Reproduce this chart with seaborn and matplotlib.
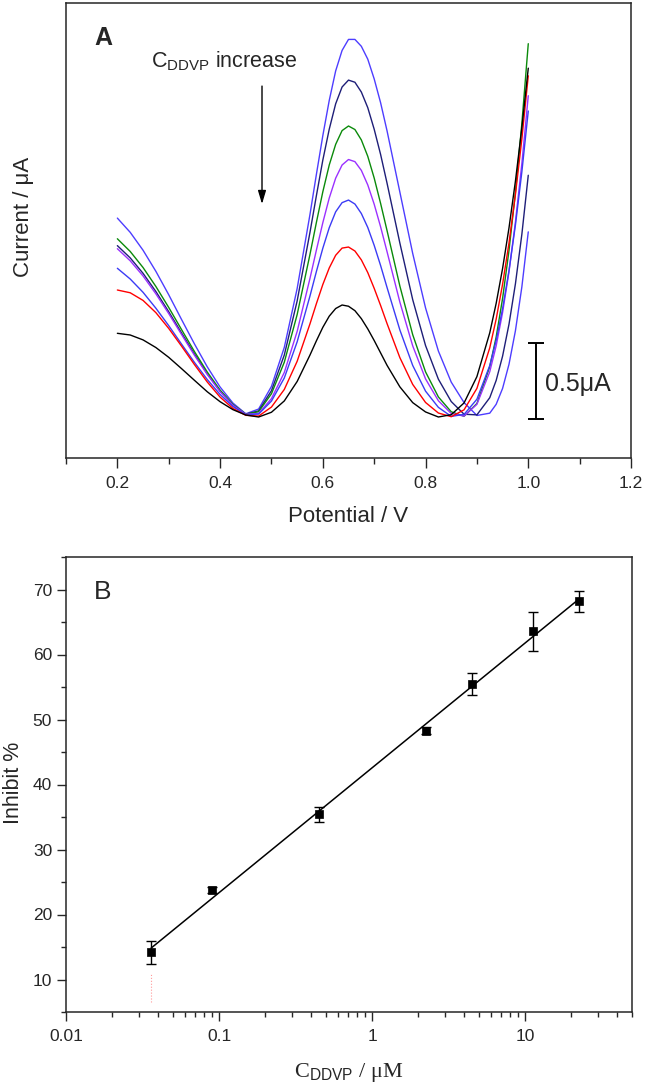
import numpy as np
import pandas as pd
import matplotlib
matplotlib.use("Agg")
import matplotlib.pyplot as plt
from matplotlib.ticker import MultipleLocator, FixedLocator, LogLocator, NullFormatter
import seaborn as sns

# ---------------- data: panel A (DPV curves, values in uA relative to minimum) ----------------
potential = [0.200, 0.225, 0.250, 0.275, 0.300, 0.325, 0.350, 0.375, 0.400, 0.425, 0.450,
             0.475, 0.500, 0.525, 0.550, 0.575,
             0.5875, 0.600, 0.6125, 0.625, 0.6375, 0.650, 0.6625, 0.675, 0.6875, 0.700, 0.7125, 0.725,
             0.750, 0.775, 0.800, 0.825, 0.850, 0.875, 0.900,
             0.925, 0.9375, 0.950, 0.9625, 0.975, 0.9875, 1.000]

curve_black = [0.547, 0.536, 0.504, 0.454, 0.390, 0.316, 0.240, 0.165, 0.100, 0.048, 0.013,
               0.000, 0.031, 0.105, 0.232, 0.405,
               0.498, 0.586, 0.659, 0.709, 0.732, 0.724, 0.695, 0.643, 0.576, 0.500, 0.419, 0.338,
               0.197, 0.094, 0.033, 0.000, 0.015, 0.092, 0.264,
               0.550, 0.743, 0.971, 1.237, 1.542, 1.890, 2.280]
curve_red = [0.830, 0.812, 0.762, 0.682, 0.579, 0.463, 0.343, 0.229, 0.130, 0.056, 0.011,
             0.006, 0.065, 0.180, 0.364, 0.609,
             0.741, 0.866, 0.974, 1.057, 1.104, 1.111, 1.085, 1.027, 0.944, 0.841, 0.729, 0.611,
             0.388, 0.213, 0.095, 0.026, 0.002, 0.047, 0.187,
             0.452, 0.640, 0.868, 1.138, 1.455, 1.817, 2.230]
curve_blue = [0.972, 0.902, 0.815, 0.711, 0.597, 0.476, 0.357, 0.245, 0.147, 0.068, 0.016,
              0.019, 0.104, 0.255, 0.491, 0.791,
              0.951, 1.103, 1.237, 1.341, 1.401, 1.418, 1.392, 1.330, 1.239, 1.122, 0.990, 0.847,
              0.569, 0.337, 0.169, 0.063, 0.004, 0.017, 0.116,
              0.336, 0.501, 0.708, 0.958, 1.255, 1.602, 2.000]
curve_purple = [1.100, 1.021, 0.922, 0.805, 0.676, 0.539, 0.404, 0.278, 0.166, 0.077, 0.018,
                0.023, 0.120, 0.291, 0.559, 0.906,
                1.091, 1.270, 1.431, 1.561, 1.647, 1.683, 1.669, 1.612, 1.517, 1.391, 1.243, 1.081,
                0.751, 0.465, 0.249, 0.106, 0.023, 0.006, 0.083,
                0.296, 0.465, 0.683, 0.950, 1.275, 1.656, 2.100]
curve_green = [1.165, 1.082, 0.977, 0.853, 0.716, 0.571, 0.428, 0.294, 0.176, 0.082, 0.019,
               0.034, 0.152, 0.358, 0.669, 1.063,
               1.272, 1.472, 1.647, 1.782, 1.872, 1.902, 1.879, 1.811, 1.704, 1.562, 1.396, 1.219,
               0.856, 0.538, 0.295, 0.131, 0.034, 0.005, 0.088,
               0.329, 0.523, 0.775, 1.089, 1.468, 1.918, 2.440]
curve_navy = [1.120, 1.040, 0.939, 0.820, 0.688, 0.549, 0.412, 0.283, 0.169, 0.078, 0.018,
              0.040, 0.172, 0.405, 0.758, 1.207,
              1.447, 1.679, 1.881, 2.047, 2.157, 2.202, 2.188, 2.124, 2.022, 1.881, 1.716, 1.529,
              1.137, 0.767, 0.467, 0.247, 0.101, 0.018, 0.014,
              0.126, 0.239, 0.398, 0.607, 0.871, 1.194, 1.580]
curve_top = [1.300, 1.207, 1.090, 0.952, 0.799, 0.637, 0.478, 0.328, 0.196, 0.091, 0.021,
             0.052, 0.200, 0.455, 0.839, 1.324,
             1.586, 1.839, 2.069, 2.262, 2.396, 2.468, 2.468, 2.423, 2.339, 2.210, 2.054, 1.871,
             1.470, 1.069, 0.713, 0.431, 0.228, 0.094, 0.010,
             0.025, 0.083, 0.187, 0.345, 0.564, 0.850, 1.210]

curve_names = ["c1", "c2", "c3", "c4", "c5", "c6", "c7"]
curve_colors = ["#000000", "#ff0000", "#3b3bf5", "#9b30ff", "#0a8a0a", "#1e1e78", "#4d3dff"]

# ---------------- data: panel B ----------------
conc_uM = [0.036, 0.09, 0.45, 2.25, 4.5, 11.25, 22.5]
inhibit = [14.2, 23.8, 35.4, 48.3, 55.4, 63.6, 68.2]
inhibit_err = [1.8, 0.5, 1.2, 0.5, 1.7, 3.0, 1.6]

xticks_A = [0.2, 0.4, 0.6, 0.8, 1.0, 1.2]
xticklabels_A = ["0.2", "0.4", "0.6", "0.8", "1.0", "1.2"]
yticks_B = [10, 20, 30, 40, 50, 60, 70]
xticks_B = [0.01, 0.1, 1, 10]
xticklabels_B = ["0.01", "0.1", "1", "10"]

# ---------------- style ----------------
sns.set_style("ticks")
plt.rcParams["font.family"] = ["Liberation Sans", "DejaVu Sans"]
plt.rcParams["mathtext.fontset"] = "custom"
plt.rcParams["mathtext.rm"] = "Liberation Sans"
plt.rcParams["mathtext.sf"] = "Liberation Sans"
plt.rcParams["axes.linewidth"] = 1.1

fig = plt.figure(figsize=(6.49, 10.92), dpi=100)
ax1 = fig.add_axes([66 / 649, (1092 - 458) / 1092, 565 / 649, 455 / 1092])
ax2 = fig.add_axes([66 / 649, (1092 - 1012) / 1092, 566 / 649, 455 / 1092])

# ---------------- panel A ----------------
all_curves = [curve_black, curve_red, curve_blue, curve_purple, curve_green, curve_navy, curve_top]
frames = []
for name, vals in zip(curve_names, all_curves):
    frames.append(pd.DataFrame({"Potential": potential, "Current": vals, "curve": name}))
dfA = pd.concat(frames, ignore_index=True)

sns.lineplot(data=dfA, x="Potential", y="Current", hue="curve", hue_order=curve_names[::-1],
             palette=dict(zip(curve_names, curve_colors)), legend=False, linewidth=1.0,
             estimator=None, sort=False, ax=ax1)

ax1.set_xlim(0.1, 1.2)
ax1.set_ylim(-0.268, 2.706)
ax1.xaxis.set_major_locator(FixedLocator(xticks_A))
ax1.set_xticklabels(xticklabels_A)
ax1.xaxis.set_minor_locator(MultipleLocator(0.1))
ax1.tick_params(axis="x", which="major", direction="out", length=7, width=1.0, pad=6, labelsize=12.5)
ax1.tick_params(axis="x", which="minor", direction="out", length=4, width=1.0)
ax1.tick_params(axis="y", which="both", left=False, labelleft=False)
for s in ax1.spines.values():
    s.set_visible(True)
    s.set_linewidth(1.1)
ax1.set_xlabel("Potential / V", fontsize=16)
ax1.set_ylabel("Current / μA", fontsize=16)
ax1.xaxis.set_label_coords(0.5, -0.105)
ax1.yaxis.set_label_coords(-0.057, 0.53)

ax1.text(0.066, 0.923, "A", transform=ax1.transAxes, fontsize=18, fontweight="bold",
         ha="center", va="center")
ax1.text(0.2655, 2.283, r"C$_{\mathregular{DDVP}}$ increase", fontsize=15.5, ha="left", va="baseline")
ax1.annotate("", xy=(0.4816, 1.392), xytext=(0.4816, 2.163),
             arrowprops=dict(arrowstyle="-|>,head_length=1.0,head_width=0.3", color="black",
                             lw=1.0, mutation_scale=8, shrinkA=0, shrinkB=0))
# 0.5 uA scale bar
ax1.errorbar([1.015], [0.235], yerr=[0.25], fmt="none", ecolor="black", elinewidth=1.4,
             capsize=5.5, capthick=1.4)
ax1.text(1.0326, 0.216, "0.5μA", fontsize=18, ha="left", va="center")

# ---------------- panel B ----------------
dfB = pd.DataFrame({"conc": conc_uM, "inhibit": inhibit, "err": inhibit_err})
ax2.set_xscale("log")
sns.regplot(data=dfB, x="conc", y="inhibit", logx=True, ci=None, scatter=False, truncate=True,
            line_kws=dict(color="black", lw=1.1), ax=ax2)
ax2.errorbar(dfB["conc"], dfB["inhibit"], yerr=dfB["err"], fmt="none", ecolor="black",
             elinewidth=1.0, capsize=3.4, capthick=1.0)
sns.scatterplot(data=dfB, x="conc", y="inhibit", marker="s", color="black", s=30,
                edgecolor="black", linewidth=0.5, ax=ax2, zorder=5)
# faint dotted drop line under the first point
ax2.plot([conc_uM[0], conc_uM[0]], [6.5, inhibit[0] - inhibit_err[0] - 1.5], ls=":",
         color="#ff9a9a", lw=0.8)

ax2.set_xlim(0.01, 50)
ax2.set_ylim(5, 75)
ax2.xaxis.set_major_locator(FixedLocator(xticks_B))
ax2.set_xticklabels(xticklabels_B)
ax2.xaxis.set_minor_locator(LogLocator(base=10, subs=np.arange(2, 10)))
ax2.xaxis.set_minor_formatter(NullFormatter())
ax2.yaxis.set_major_locator(FixedLocator(yticks_B))
ax2.yaxis.set_minor_locator(MultipleLocator(5))
ax2.tick_params(axis="both", which="major", direction="out", length=6.5, width=1.0, labelsize=12.5)
ax2.tick_params(axis="x", which="major", pad=6)
ax2.tick_params(axis="y", which="major", pad=3.5)
ax2.tick_params(axis="both", which="minor", direction="out", length=3.5, width=1.0)
ax2.tick_params(top=False, right=False, which="both")
for s in ax2.spines.values():
    s.set_visible(True)
    s.set_linewidth(1.1)
ax2.set_ylabel("Inhibit %", fontsize=15.5)
ax2.set_xlabel(r"C$_{\mathsf{DDVP}}$ / μM", fontsize=16, family=["Liberation Serif", "DejaVu Serif"])
ax2.xaxis.set_label_coords(0.5, -0.108)
ax2.yaxis.set_label_coords(-0.074, 0.503)
ax2.text(0.065, 0.923, "B", transform=ax2.transAxes, fontsize=19, ha="center", va="center")

fig.savefig("out.png", dpi=100)
